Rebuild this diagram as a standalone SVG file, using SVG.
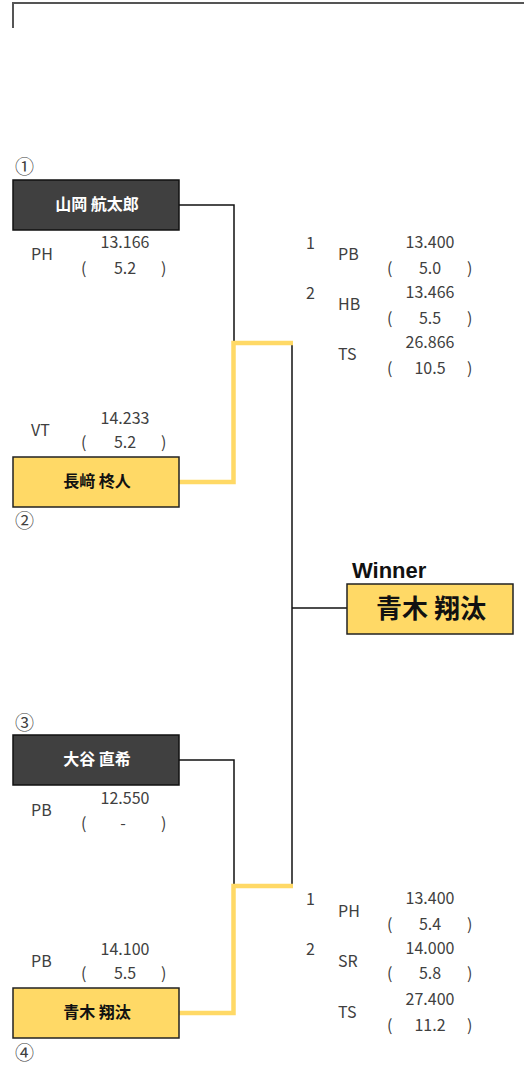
<svg xmlns="http://www.w3.org/2000/svg" width="524" height="1087" viewBox="0 0 524 1087">
<style>
.dark{fill:#404040;stroke:#111;stroke-width:1.5}
.yel{fill:#FFD966;stroke:#222;stroke-width:1.5}
.nm{font-family:"Noto Sans CJK JP","Noto Sans",sans-serif;font-weight:bold;font-size:16px;text-anchor:middle;dominant-baseline:central}
.t{font-family:"Noto Sans CJK JP","Noto Sans",sans-serif;font-size:16px;fill:#404040;dominant-baseline:central}
.n{font-family:"Noto Sans CJK JP","Noto Sans",sans-serif;font-size:19px;fill:#404040;dominant-baseline:central}
.c{text-anchor:middle}
.blk{fill:none;stroke:#111;stroke-width:1.5}
.gold{fill:none;stroke:#FFD966;stroke-width:4.5}
</style>
<path d="M13,28 V3 H524" fill="none" stroke="#555" stroke-width="2"/>
<g id="connectors">
<path class="blk" d="M179,205 H234 V343"/>
<path class="blk" d="M179,760 H234 V886"/>
<path class="blk" d="M292,343 V887"/>
<path class="blk" d="M292,608 H347"/>
<path class="gold" d="M179,482 H233.5 V343 H293"/>
<path class="gold" d="M179,1013 H233.5 V886 H293"/>
</g>
<g id="node1">
<rect class="dark" x="13" y="180" width="166" height="50"/>
<text class="nm" x="97" y="203" fill="#fff">山岡 航太郎</text>
<text class="n" x="15" y="165">①</text>
<text class="t" x="31" y="253">PH</text>
<text class="t c" x="125" y="241">13.166</text>
<text class="t" x="81" y="267">(</text>
<text class="t c" x="125" y="267">5.2</text>
<text class="t" x="161" y="267">)</text>
</g>
<g id="node2">
<rect class="yel" x="13" y="457" width="166" height="50"/>
<text class="nm" x="97" y="480" fill="#111">長﨑 柊人</text>
<text class="n" x="15" y="519">②</text>
<text class="t" x="31" y="429">VT</text>
<text class="t c" x="125" y="417">14.233</text>
<text class="t" x="81" y="441">(</text>
<text class="t c" x="125" y="441">5.2</text>
<text class="t" x="161" y="441">)</text>
</g>
<g id="node3">
<rect class="dark" x="13" y="735" width="166" height="50"/>
<text class="nm" x="97" y="758" fill="#fff">大谷 直希</text>
<text class="n" x="15" y="721">③</text>
<text class="t" x="31" y="809">PB</text>
<text class="t c" x="125" y="797">12.550</text>
<text class="t" x="81" y="822">(</text>
<text class="t c" x="123" y="822">-</text>
<text class="t" x="161" y="822">)</text>
</g>
<g id="node4">
<rect class="yel" x="13" y="988" width="166" height="50"/>
<text class="nm" x="97" y="1011" fill="#111">青木 翔汰</text>
<text class="n" x="15" y="1051">④</text>
<text class="t" x="31" y="960">PB</text>
<text class="t c" x="125" y="948">14.100</text>
<text class="t" x="81" y="972">(</text>
<text class="t c" x="125" y="972">5.5</text>
<text class="t" x="161" y="972">)</text>
</g>
<g id="scores-top">
<text class="t" x="306" y="242">1</text>
<text class="t" x="338" y="253">PB</text>
<text class="t c" x="430" y="241">13.400</text>
<text class="t" x="387" y="267">(</text>
<text class="t c" x="430" y="267">5.0</text>
<text class="t" x="467" y="267">)</text>
<text class="t" x="306" y="292">2</text>
<text class="t" x="338" y="303">HB</text>
<text class="t c" x="430" y="291">13.466</text>
<text class="t" x="387" y="317">(</text>
<text class="t c" x="430" y="317">5.5</text>
<text class="t" x="467" y="317">)</text>
<text class="t" x="338" y="353">TS</text>
<text class="t c" x="430" y="341">26.866</text>
<text class="t" x="387" y="367">(</text>
<text class="t c" x="430" y="367">10.5</text>
<text class="t" x="467" y="367">)</text>
</g>
<g id="scores-bottom">
<text class="t" x="306" y="898">1</text>
<text class="t" x="338" y="910">PH</text>
<text class="t c" x="430" y="897">13.400</text>
<text class="t" x="387" y="923">(</text>
<text class="t c" x="430" y="923">5.4</text>
<text class="t" x="467" y="923">)</text>
<text class="t" x="306" y="948">2</text>
<text class="t" x="338" y="960">SR</text>
<text class="t c" x="430" y="947">14.000</text>
<text class="t" x="387" y="972">(</text>
<text class="t c" x="430" y="972">5.8</text>
<text class="t" x="467" y="972">)</text>
<text class="t" x="338" y="1011">TS</text>
<text class="t c" x="430" y="998">27.400</text>
<text class="t" x="387" y="1024">(</text>
<text class="t c" x="430" y="1024">11.2</text>
<text class="t" x="467" y="1024">)</text>
</g>
<g id="winner">
<text x="352" y="578" font-family="'Liberation Sans',Arial,sans-serif" font-weight="bold" font-size="22" fill="#111">Winner</text>
<rect class="yel" x="347" y="584" width="166" height="50"/>
<text class="nm" x="431" y="606" fill="#111" style="font-size:26px">青木 翔汰</text>
</g>
</svg>
